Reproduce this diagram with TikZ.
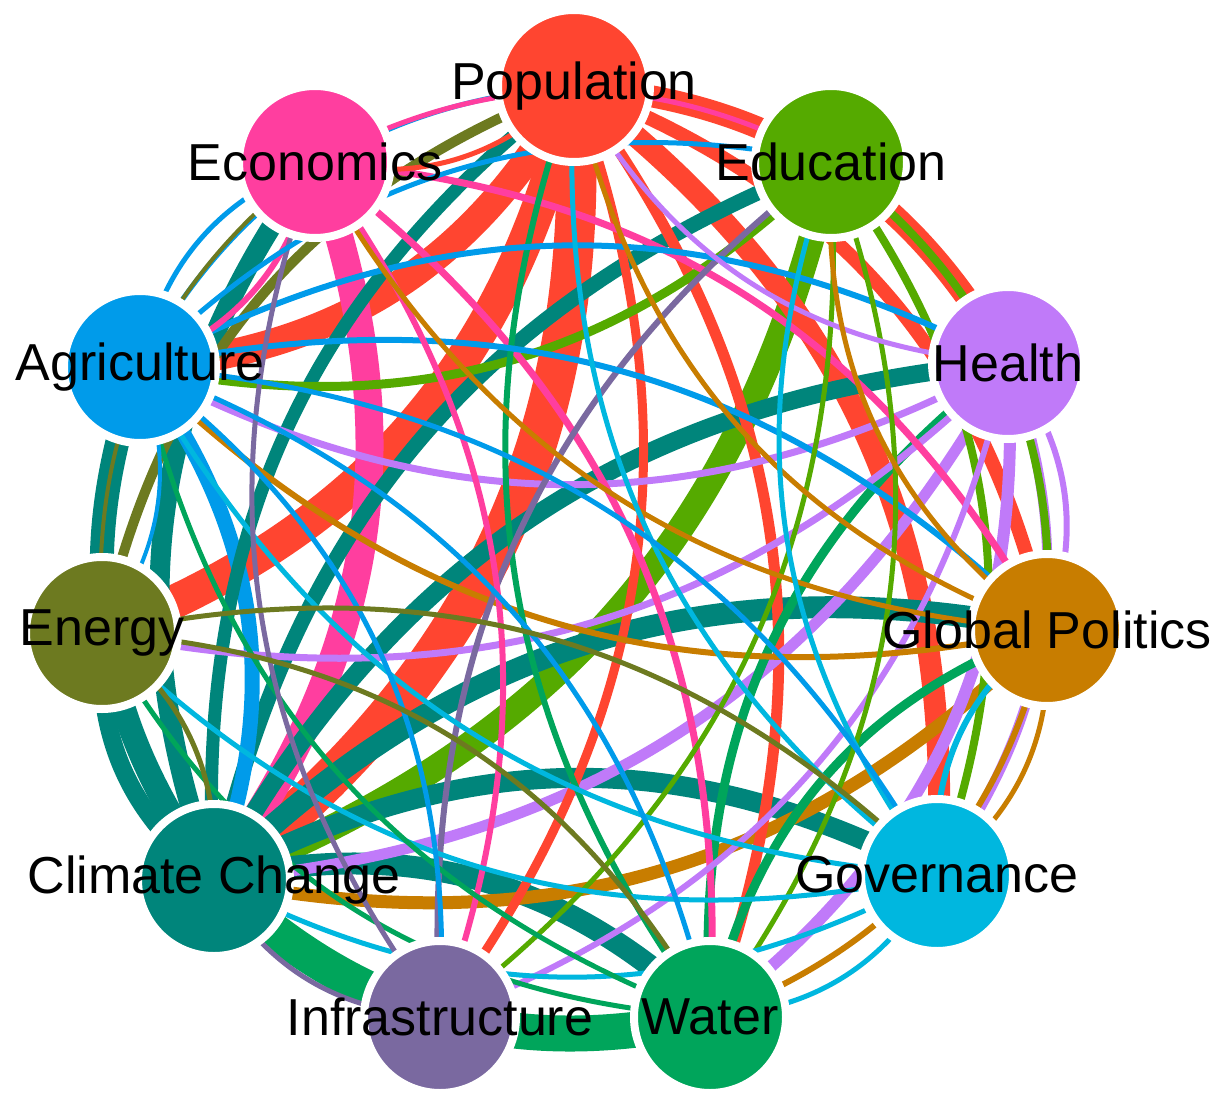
\documentclass[tikz,border=0pt]{standalone}
\usepackage{fontspec}
\setmainfont{Liberation Sans}
\definecolor{cP}{HTML}{FF4530}
\definecolor{cEd}{HTML}{55AA00}
\definecolor{cH}{HTML}{C07AF9}
\definecolor{cGP}{HTML}{C87D00}
\definecolor{cGov}{HTML}{00B7DF}
\definecolor{cW}{HTML}{00A55B}
\definecolor{cI}{HTML}{7A69A0}
\definecolor{cCC}{HTML}{00857B}
\definecolor{cEn}{HTML}{6D7A20}
\definecolor{cAg}{HTML}{009BEA}
\definecolor{cEc}{HTML}{FF3E9F}
\pgfdeclarelayer{edgelayer}
\pgfsetlayers{edgelayer,main}
\newcommand\lnkline[4]{\draw[lnk, line width=#3pt, draw=#4] (#1.center) to (#2.center);}
\begin{document}
\begin{tikzpicture}[x=1pt,y=-1pt,
  vtx/.style={circle, draw=white, line width=8pt, minimum size=152pt, inner sep=0pt,
              font=\fontsize{52}{60}\selectfont, text=black},
  lnk/.style={bend left=28}]
\useasboundingbox (0,0) rectangle (1213,1094);
\node[vtx, fill=cP]   (P)   at (574,86)   {\makebox[0pt]{Population}};
\node[vtx, fill=cEd]  (Ed)  at (831,162)  {\makebox[0pt]{Education}};
\node[vtx, fill=cH]   (H)   at (1008,363) {\makebox[0pt]{Health}};
\node[vtx, fill=cGP]  (GP)  at (1047,630) {\makebox[0pt]{Global Politics}};
\node[vtx, fill=cGov] (Gov) at (937,875)  {\makebox[0pt]{Governance}};
\node[vtx, fill=cW]   (W)   at (710,1017) {\makebox[0pt]{Water}};
\node[vtx, fill=cI]   (I)   at (440,1017) {\makebox[0pt]{Infrastructure}};
\node[vtx, fill=cCC]  (CC)  at (214,880)  {\makebox[0pt]{Climate Change}};
\node[vtx, fill=cEn]  (En)  at (102,633)  {\makebox[0pt]{Energy}};
\node[vtx, fill=cAg]  (Ag)  at (140,367)  {\makebox[0pt]{Agriculture}};
\node[vtx, fill=cEc]  (Ec)  at (315,162)  {\makebox[0pt]{Economics}};
\begin{pgfonlayer}{edgelayer}
\fill[white] (0,0) rectangle (1213,1094);
\lnkline{P}{CC}{40}{cP}
\lnkline{W}{CC}{36}{cW}
\lnkline{P}{En}{34}{cP}
\lnkline{P}{Ag}{28}{cP}
\lnkline{Ec}{CC}{28}{cEc}
\lnkline{Ed}{CC}{26}{cEd}
\lnkline{CC}{Ag}{24}{cCC}
\lnkline{P}{H}{22}{cP}
\lnkline{P}{Gov}{22}{cP}
\lnkline{CC}{GP}{22}{cCC}
\lnkline{CC}{W}{22}{cCC}
\lnkline{CC}{Gov}{20}{cCC}
\lnkline{CC}{Ec}{20}{cCC}
\lnkline{CC}{H}{18}{cCC}
\lnkline{CC}{En}{18}{cCC}
\lnkline{CC}{Ed}{15}{cCC}
\lnkline{Ag}{CC}{15}{cAg}
\lnkline{P}{GP}{14}{cP}
\lnkline{CC}{P}{13}{cCC}
\lnkline{GP}{CC}{13}{cGP}
\lnkline{H}{W}{12}{cH}
\lnkline{P}{W}{11}{cP}
\lnkline{H}{CC}{11}{cH}
\lnkline{H}{Gov}{10}{cH}
\lnkline{En}{P}{10}{cEn}
\lnkline{P}{I}{9}{cP}
\lnkline{Ed}{Ag}{9}{cEd}
\lnkline{W}{H}{9}{cW}
\lnkline{W}{GP}{9}{cW}
\lnkline{Ed}{GP}{8}{cEd}
\lnkline{Ed}{Gov}{8}{cEd}
\lnkline{H}{Ag}{7}{cH}
\lnkline{H}{En}{7}{cH}
\lnkline{Ec}{GP}{7}{cEc}
\lnkline{Ec}{W}{7}{cEc}
\lnkline{H}{I}{6}{cH}
\lnkline{H}{GP}{6}{cH}
\lnkline{GP}{Ag}{6}{cGP}
\lnkline{GP}{W}{6}{cGP}
\lnkline{Gov}{GP}{6}{cGov}
\lnkline{W}{P}{6}{cW}
\lnkline{I}{Ed}{6}{cI}
\lnkline{Ag}{H}{6}{cAg}
\lnkline{Ag}{GP}{6}{cAg}
\lnkline{Ec}{I}{6}{cEc}
\lnkline{Ec}{Ag}{6}{cEc}
\lnkline{P}{Ec}{5}{cP}
\lnkline{Ed}{W}{5}{cEd}
\lnkline{Ed}{I}{5}{cEd}
\lnkline{H}{P}{5}{cH}
\lnkline{GP}{Ec}{5}{cGP}
\lnkline{GP}{Ed}{5}{cGP}
\lnkline{GP}{Gov}{5}{cGP}
\lnkline{GP}{P}{5}{cGP}
\lnkline{Gov}{Ed}{5}{cGov}
\lnkline{Gov}{P}{5}{cGov}
\lnkline{Gov}{Ag}{5}{cGov}
\lnkline{Gov}{En}{5}{cGov}
\lnkline{Gov}{CC}{5}{cGov}
\lnkline{Gov}{W}{5}{cGov}
\lnkline{W}{Ag}{5}{cW}
\lnkline{W}{En}{5}{cW}
\lnkline{I}{Ec}{5}{cI}
\lnkline{I}{CC}{5}{cI}
\lnkline{Ag}{Gov}{5}{cAg}
\lnkline{Ag}{W}{5}{cAg}
\lnkline{Ag}{I}{5}{cAg}
\lnkline{Ag}{P}{5}{cAg}
\lnkline{Ag}{Ed}{5}{cAg}
\lnkline{Ag}{Ec}{5}{cAg}
\lnkline{En}{Gov}{5}{cEn}
\lnkline{En}{W}{5}{cEn}
\lnkline{En}{CC}{5}{cEn}
\lnkline{Ec}{Ed}{5}{cEc}
\lnkline{Ag}{En}{4}{cAg}
\lnkline{En}{Ec}{4}{cEn}
\end{pgfonlayer}
\end{tikzpicture}
\end{document}
